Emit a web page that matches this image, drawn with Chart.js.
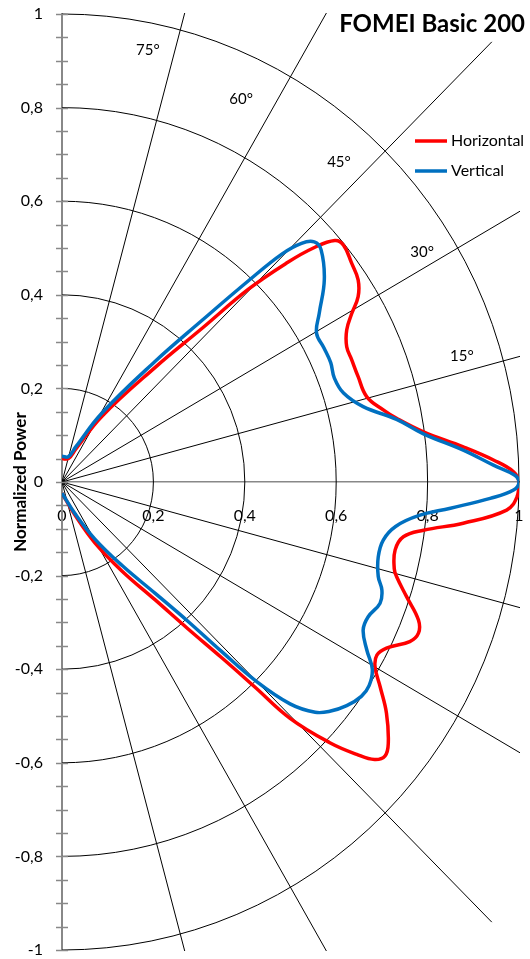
<!DOCTYPE html>
<html>
<head>
<meta charset="utf-8">
<script src="https://cdn.jsdelivr.net/npm/chart.js@4"></script>
<style>
  html, body { margin: 0; padding: 0; background: #fff; }
  #wrap { width: 530px; height: 959px; position: relative; }
</style>
</head>
<body>
<div id="wrap"><canvas id="c"></canvas></div>
<script>
// ---- data ----
const horizontalX = [0.000,0.014,0.030,0.087,0.204,0.306,0.408,0.495,0.550,0.597,0.616,0.634,0.648,0.648,0.634,0.623,0.623,0.634,0.648,0.667,0.703,0.732,0.791,0.878,0.944,0.988,1.000,0.996,0.973,0.878,0.791,0.747,0.729,0.727,0.732,0.754,0.780,0.780,0.761,0.710,0.689,0.685,0.696,0.710,0.714,0.707,0.684,0.645,0.586,0.499,0.422,0.349,0.276,0.204,0.131,0.072,0.028,0.000];
const horizontalY = [0.050,0.050,0.070,0.140,0.245,0.328,0.412,0.470,0.500,0.516,0.506,0.467,0.432,0.396,0.360,0.325,0.289,0.261,0.225,0.182,0.154,0.136,0.107,0.075,0.047,0.022,0.000,-0.031,-0.060,-0.088,-0.103,-0.117,-0.145,-0.185,-0.202,-0.245,-0.295,-0.323,-0.341,-0.355,-0.370,-0.395,-0.437,-0.494,-0.558,-0.585,-0.593,-0.582,-0.557,-0.505,-0.438,-0.375,-0.314,-0.252,-0.190,-0.130,-0.070,-0.024];
const verticalX = [0.000,0.014,0.030,0.087,0.204,0.306,0.408,0.481,0.524,0.552,0.567,0.574,0.563,0.557,0.573,0.588,0.596,0.616,0.659,0.732,0.791,0.878,0.944,0.990,1.000,0.988,0.937,0.850,0.780,0.730,0.703,0.692,0.692,0.700,0.696,0.670,0.659,0.667,0.679,0.672,0.655,0.623,0.586,0.554,0.499,0.424,0.349,0.276,0.204,0.131,0.072,0.028,0.000];
const verticalY = [0.055,0.054,0.075,0.147,0.258,0.345,0.430,0.487,0.510,0.513,0.496,0.432,0.361,0.318,0.287,0.255,0.222,0.190,0.161,0.134,0.103,0.068,0.036,0.015,0.000,-0.017,-0.035,-0.056,-0.072,-0.095,-0.124,-0.160,-0.202,-0.231,-0.259,-0.288,-0.316,-0.359,-0.400,-0.435,-0.458,-0.478,-0.490,-0.492,-0.474,-0.425,-0.362,-0.298,-0.238,-0.178,-0.122,-0.067,-0.024];

const seriesNames = ['Horizontal', 'Vertical'];
const chartTitle = 'FOMEI Basic 200';
const yAxisTitle = 'Normalized Power';

// polar grid
const ringRadii = [0.2, 0.4, 0.6, 0.8, 1.0];
const spokeAngles = [75, 60, 45, 30, 15, -15, -30, -45, -60, -75];
const angleLabels = ['75°', '60°', '45°', '30°', '15°'];
const angleLabelAnchors = [[0.188, 0.922], [0.392, 0.818], [0.606, 0.684], [0.788, 0.491], [0.875, 0.269]];
const spokeLength = 1.33;

const toPoints = (xs, ys) => xs.map((v, i) => ({x: v, y: ys[i]}));
const fmt = v => String(Math.round(v * 10) / 10).replace('.', ',');

const FONT = 'Lato, "Open Sans", sans-serif';
const GRAY = '#888888';
const RED = '#FF0000';
const BLUE = '#0070C0';

const polarPlugin = {
  id: 'polarDecor',
  beforeDatasetsDraw(chart) {
    const {ctx, chartArea: a, scales: {x, y}} = chart;
    const cx = x.getPixelForValue(0), cy = y.getPixelForValue(0);
    const ux = x.getPixelForValue(1) - cx, uy = cy - y.getPixelForValue(1);
    ctx.save();
    ctx.beginPath();
    ctx.rect(a.left, a.top - 1, a.right - a.left + 1, a.bottom - a.top + 2);
    ctx.clip();
    ctx.strokeStyle = '#000';
    ctx.lineWidth = 1;
    for (const r of ringRadii) {
      ctx.beginPath();
      ctx.ellipse(cx, cy, r * ux, r * uy, 0, -Math.PI / 2, Math.PI / 2);
      ctx.stroke();
    }
    for (const d of spokeAngles) {
      const t = d * Math.PI / 180;
      ctx.beginPath();
      ctx.moveTo(cx, cy);
      ctx.lineTo(x.getPixelForValue(spokeLength * Math.cos(t)), y.getPixelForValue(spokeLength * Math.sin(t)));
      ctx.stroke();
    }
    ctx.restore();

    // y-axis minor/major tick marks crossing the axis
    ctx.save();
    ctx.strokeStyle = GRAY;
    ctx.lineWidth = 1.5;
    for (let k = -20; k <= 20; k++) {
      const py = Math.round(y.getPixelForValue(k * 0.05)) + 0.5;
      ctx.beginPath();
      ctx.moveTo(a.left - 6, py);
      ctx.lineTo(a.left + 6, py);
      ctx.stroke();
    }
    ctx.restore();

    // angle labels
    ctx.save();
    ctx.fillStyle = '#000';
    ctx.font = '15px ' + FONT;
    ctx.textAlign = 'center';
    ctx.textBaseline = 'middle';
    angleLabels.forEach((s, i) => {
      ctx.fillText(s, x.getPixelForValue(angleLabelAnchors[i][0]), y.getPixelForValue(angleLabelAnchors[i][1]));
    });
    ctx.restore();
  },
  afterDraw(chart) {
    const {ctx} = chart;
    ctx.save();
    // title
    ctx.fillStyle = '#000';
    ctx.font = 'bold 24px ' + FONT;
    ctx.textAlign = 'right';
    ctx.textBaseline = 'alphabetic';
    ctx.fillText(chartTitle, 525, 32);
    // legend
    const items = [[RED, 141], [BLUE, 171]];
    ctx.font = '16px ' + FONT;
    ctx.textAlign = 'left';
    ctx.textBaseline = 'middle';
    items.forEach(([col, yy], i) => {
      ctx.strokeStyle = col;
      ctx.lineWidth = 3.5;
      ctx.beginPath();
      ctx.moveTo(415, yy);
      ctx.lineTo(447, yy);
      ctx.stroke();
      ctx.fillStyle = '#000';
      ctx.fillText(seriesNames[i], 451, yy);
    });
    ctx.restore();
  }
};

new Chart(document.getElementById('c'), {
  type: 'scatter',
  data: {
    datasets: [
      {label: seriesNames[0], data: toPoints(horizontalX, horizontalY), borderColor: RED, backgroundColor: RED, borderWidth: 3.5, showLine: true, tension: 0.4, pointRadius: 0, order: 2},
      {label: seriesNames[1], data: toPoints(verticalX, verticalY), borderColor: BLUE, backgroundColor: BLUE, borderWidth: 3.5, showLine: true, tension: 0.4, pointRadius: 0, order: 1}
    ]
  },
  options: {
    responsive: true,
    maintainAspectRatio: false,
    animation: false,
    layout: {padding: {left: 0, right: 11, top: 14, bottom: 9}},
    plugins: {legend: {display: false}, tooltip: {enabled: false}, title: {display: false}},
    scales: {
      x: {
        type: 'linear', min: 0, max: 1,
        position: {y: 0},
        grid: {display: false, drawTicks: false},
        border: {display: true, color: GRAY, width: 1.5},
        ticks: {stepSize: 0.2, padding: 24, color: '#000', font: {family: FONT, size: 16}, callback: v => fmt(v), maxRotation: 0},
        afterFit: s => { s.paddingLeft = 0; s.paddingRight = 0; s.paddingTop = 0; s.paddingBottom = 0; }
      },
      y: {
        type: 'linear', min: -1, max: 1,
        position: 'left',
        grid: {display: false, drawTicks: false},
        border: {display: true, color: GRAY, width: 2},
        ticks: {stepSize: 0.2, padding: 19, color: '#000', font: {family: FONT, size: 16}, callback: v => fmt(v)},
        title: {display: true, text: yAxisTitle, color: '#000', font: {family: FONT, size: 17, weight: 'bold'}, padding: {top: 10, bottom: 0}},
        afterFit: s => { s.width = 62; s.paddingTop = 0; s.paddingBottom = 0; }
      }
    }
  },
  plugins: [polarPlugin]
});
</script>
</body>
</html>
